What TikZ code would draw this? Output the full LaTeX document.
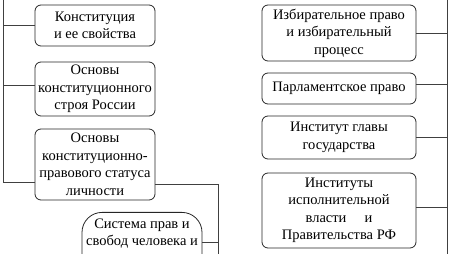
\documentclass[tikz,border=0pt]{standalone}
\usepackage{fontspec}
\setmainfont{Liberation Serif}
\usetikzlibrary{positioning}

\begin{document}
\begin{tikzpicture}[x=1pt, y=-1pt,
    topic/.style={rectangle, draw=black!85, line width=0.8pt, rounded corners=6pt, align=center, inner sep=2pt, font=\fontsize{14.5}{17.5}\selectfont},
    lbox/.style={topic, minimum width=120pt},
    rbox/.style={topic, minimum width=154pt},
    link/.style={draw=black!75, line width=0.8pt}
]
    \clip (0,0) rectangle (451,254);

    % left column
    \node[lbox, minimum height=41pt] (konst) at (95,25.5) {Конституция\\ и ее свойства};
    \node[lbox, minimum height=54pt] (osnovy) at (95,89) {Основы\\ конституционного\\ строя России};
    \node[lbox, minimum height=71pt] (status) at (95,164.5) {Основы\\ конституционно-\\ правового статуса\\ личности};
    \node[lbox, rounded corners=20pt, anchor=north, inner ysep=6pt] (sistema) at (142,212) {Система прав и\\ свобод человека и\\ ~\\ ~};

    % right column
    \node[rbox, minimum height=56pt] (izbir) at (339,33) {Избирательное право\\ и избирательный\\ процесс};
    \node[rbox, minimum height=31pt] (parl) at (339,88.5) {Парламентское право};
    \node[rbox, minimum height=43pt] (glava) at (339,137.5) {Институт главы\\ государства};
    \node[rbox, minimum height=75pt] (ispoln) at (339,210.5) {Институты\\ исполнительной\\ власти\hspace{1em} и\\ Правительства РФ};

    % trunks
    \coordinate (ltop) at (3,0);
    \coordinate (lend) at (3,182);
    \coordinate (rtop) at (447,0);
    \coordinate (rend) at (447,254);
    \coordinate (mtop) at (218,184);
    \coordinate (mend) at (218,254);

    \draw[link] (ltop) -- (lend);
    \draw[link] (konst.west) -- (konst.west -| ltop);
    \draw[link] ([yshift=4pt]osnovy.west) -- ([yshift=4pt]osnovy.west -| ltop);
    \draw[link] (lend) -- (lend -| status.west);

    \draw[link] (rtop) -- (rend);
    \draw[link] (izbir.east) -- (izbir.east -| rtop);
    \draw[link] ([yshift=4pt]parl.east) -- ([yshift=4pt]parl.east -| rtop);
    \draw[link] (glava.east) -- (glava.east -| rtop);
    \draw[link] ([yshift=3pt]ispoln.east) -- ([yshift=3pt]ispoln.east -| rtop);

    \draw[link] (mtop -| status.east) -- (mtop) -- (mend);
    \draw[link] (sistema.east |- 0,242) -- (218,242);
\end{tikzpicture}
\end{document}
